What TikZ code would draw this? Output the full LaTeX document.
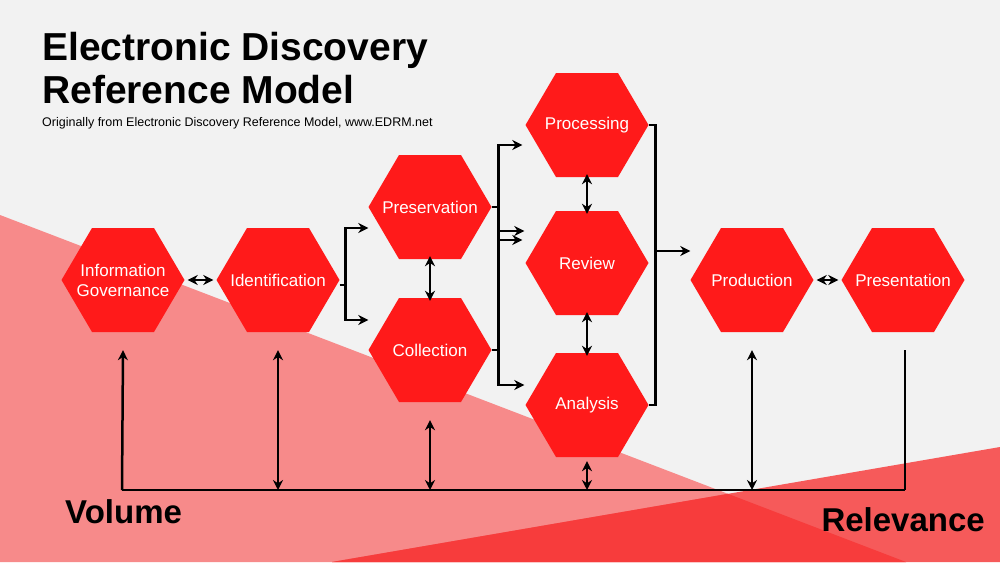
\documentclass[tikz,border=0pt]{standalone}
\usepackage{fontspec}
\setmainfont{Liberation Sans}
\usetikzlibrary{arrows.meta}
\definecolor{bg}{HTML}{F2F2F2}
\definecolor{pinkA}{HTML}{F78A8A}
\definecolor{redB}{HTML}{F65A5A}
\definecolor{redC}{HTML}{F73C3C}
\definecolor{hexred}{HTML}{FF1A1A}
\begin{document}
\begin{tikzpicture}[x=1pt,y=-1pt,
  hexlbl/.style={text=white,font=\fontsize{17}{20}\selectfont,align=center,minimum width=123pt,minimum height=104pt,inner sep=0},
  conn/.style={line width=2.5pt,black},
  arr/.style={conn,-{Stealth[length=10pt,width=10pt]}},
  darr/.style={conn,{Stealth[length=10pt,width=10pt]}-{Stealth[length=10pt,width=10pt]}}]
\fill[bg] (0,0) rectangle (1000,562);
\useasboundingbox (0,0) rectangle (1000,562);
\fill[pinkA] (0,215) -- (906,562) -- (0,562) -- cycle;
\fill[redB] (1000,447) -- (332,562) -- (1000,562) -- cycle;
\begin{scope}
\clip (0,215) -- (906,562) -- (0,562) -- cycle;
\fill[redC] (1000,447) -- (332,562) -- (1000,562) -- cycle;
\end{scope}
\newcommand{\hexagon}[4]{%
 \fill[hexred] (#2-61.5,#3) -- (#2-31,#3-52) -- (#2+31,#3-52) -- (#2+61.5,#3) -- (#2+31,#3+52) -- (#2-31,#3+52) -- cycle;
 \node[hexlbl] (#1) at (#2,#3) {#4};}
\hexagon{ig}{123}{280}{Information\\Governance}
\hexagon{id}{278}{280}{Identification}
\hexagon{pres}{430}{207}{Preservation}
\hexagon{col}{430}{350}{Collection}
\hexagon{proc}{587}{125}{Processing}
\hexagon{rev}{587}{263}{Review}
\hexagon{ana}{587}{405}{Analysis}
\hexagon{prod}{752}{280}{Production}
\hexagon{pst}{903}{280}{Presentation}
\node[anchor=north west,inner sep=0,align=left,font=\bfseries\fontsize{39}{43}\selectfont] (title) at (42,32) {Electronic Discovery\\Reference Model};
\node[anchor=west,inner sep=0,font=\fontsize{12.5}{15}\selectfont] (sub) at (42,123) {Originally from Electronic Discovery Reference Model, www.EDRM.net};
\node[anchor=west,inner sep=0,font=\bfseries\fontsize{33}{38}\selectfont] (vol) at (65,512) {Volume};
\node[anchor=east,inner sep=0,font=\bfseries\fontsize{33}{38}\selectfont] (relv) at (985,520) {Relevance};
% connectors
\draw[darr] ([xshift=3]ig.east) -- ([xshift=-3]id.west);
\draw[darr] ([xshift=3]prod.east) -- ([xshift=-3]pst.west);
\draw[conn] (id.east) ++(0,5) -- ++(6,0) coordinate (j1);
\draw[arr] (j1) |- ([yshift=-21]pres.west);
\draw[arr] (j1) |- ([yshift=30]col.west);
\draw[darr] ([yshift=3]pres.south) -- ([yshift=-3]col.north);
\draw[conn] (pres.east) -- ++(7,0) coordinate (j2);
\draw[arr] (j2) |- ([xshift=-3,yshift=-20]proc.west);
\draw[arr] (j2) |- ([xshift=-3,yshift=23]rev.west);
\draw[conn] (col.east) -- ++(7,0) coordinate (j3);
\draw[arr] (j3) |- ([xshift=-1,yshift=32]rev.west);
\draw[arr] (j3) |- ([xshift=-1,yshift=20]ana.west);
\draw[darr] ([yshift=3]proc.south) -- ([yshift=-3]rev.north);
\draw[darr] ([yshift=3]rev.south) -- ([yshift=-3]ana.north);
\draw[conn] (proc.east) -- ++(7,0) coordinate (r1) -- (r1 |- ana.east) -- (ana.east);
\path (r1 |- rev.east) ++(0,-12) coordinate (r2);
\draw[arr] (r2) -- (r2 -| prod.west);
% bottom bus
\coordinate (bl) at (122,490); \coordinate (br) at (905,490);
\draw[conn] (bl) -- (br);
\draw[arr] (bl) -- ([yshift=-18]ig.south);
\draw[darr] (id.south |- bl) -- ([yshift=-18]id.south);
\draw[darr] (col.south |- bl) -- ([yshift=-18]col.south);
\draw[darr] (ana.south |- bl) -- ([yshift=-4]ana.south);
\draw[darr] (prod.south |- bl) -- ([yshift=-18]prod.south);
\draw[conn] (br) -- ([yshift=-18]pst.south -| br);
\end{tikzpicture}
\end{document}
